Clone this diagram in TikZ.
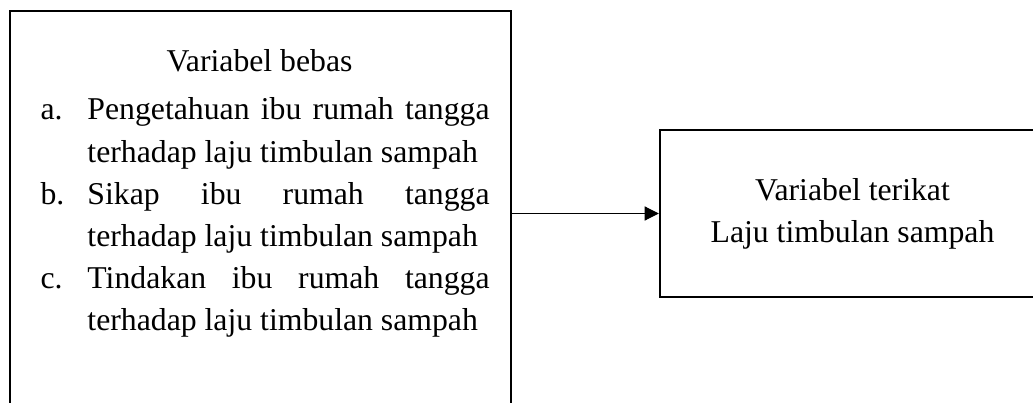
\documentclass[tikz,border=0pt]{standalone}
\usepackage{fontspec}
\setmainfont{Liberation Serif}
\usetikzlibrary{arrows.meta}

\tikzset{
  kotak/.style={draw, line width=0.9pt, rectangle, inner sep=0pt},
  teks/.style={font=\fontsize{11.9}{15.8}\selectfont, inner sep=0pt},
  panah/.style={line width=0.4pt, -{Triangle[length=5.3pt,width=5.3pt]}}
}

\newcommand{\butir}[2]{\noindent\hangindent=17.6pt\hangafter=1%
  \makebox[17.6pt][l]{#1}#2\par}

\begin{document}
\begin{tikzpicture}[x=0.375pt,y=-0.375pt]
  \useasboundingbox (0,0) rectangle (1033,403);
  \clip (0,0) rectangle (1033,403);

  \node[kotak, anchor=north west, minimum width=187.9pt, minimum height=157.5pt] (bebas) at (9,10) {};
  \node[teks, anchor=base] (judul) at (259.5,72) {Variabel bebas};
  \node[teks, anchor=base west, text width=168.4pt, align=justify] (daftar) at (40,120) {%
    \hyphenpenalty=10000 \tolerance=10000 \hbadness=10000
    \butir{a.}{Pengetahuan ibu rumah tangga\linebreak terhadap laju timbulan sampah}
    \butir{b.}{Sikap ibu rumah tangga\linebreak terhadap laju timbulan sampah}
    \butir{c.}{Tindakan ibu rumah tangga\linebreak terhadap laju timbulan sampah}};

  \node[kotak, teks, align=center, minimum width=144.4pt, minimum height=62.6pt] (terikat) at (852.5,213.5)
    {Variabel terikat\\Laju timbulan sampah};

  \draw[panah] (bebas.east |- terikat.west) -- (terikat.west);
\end{tikzpicture}
\end{document}
